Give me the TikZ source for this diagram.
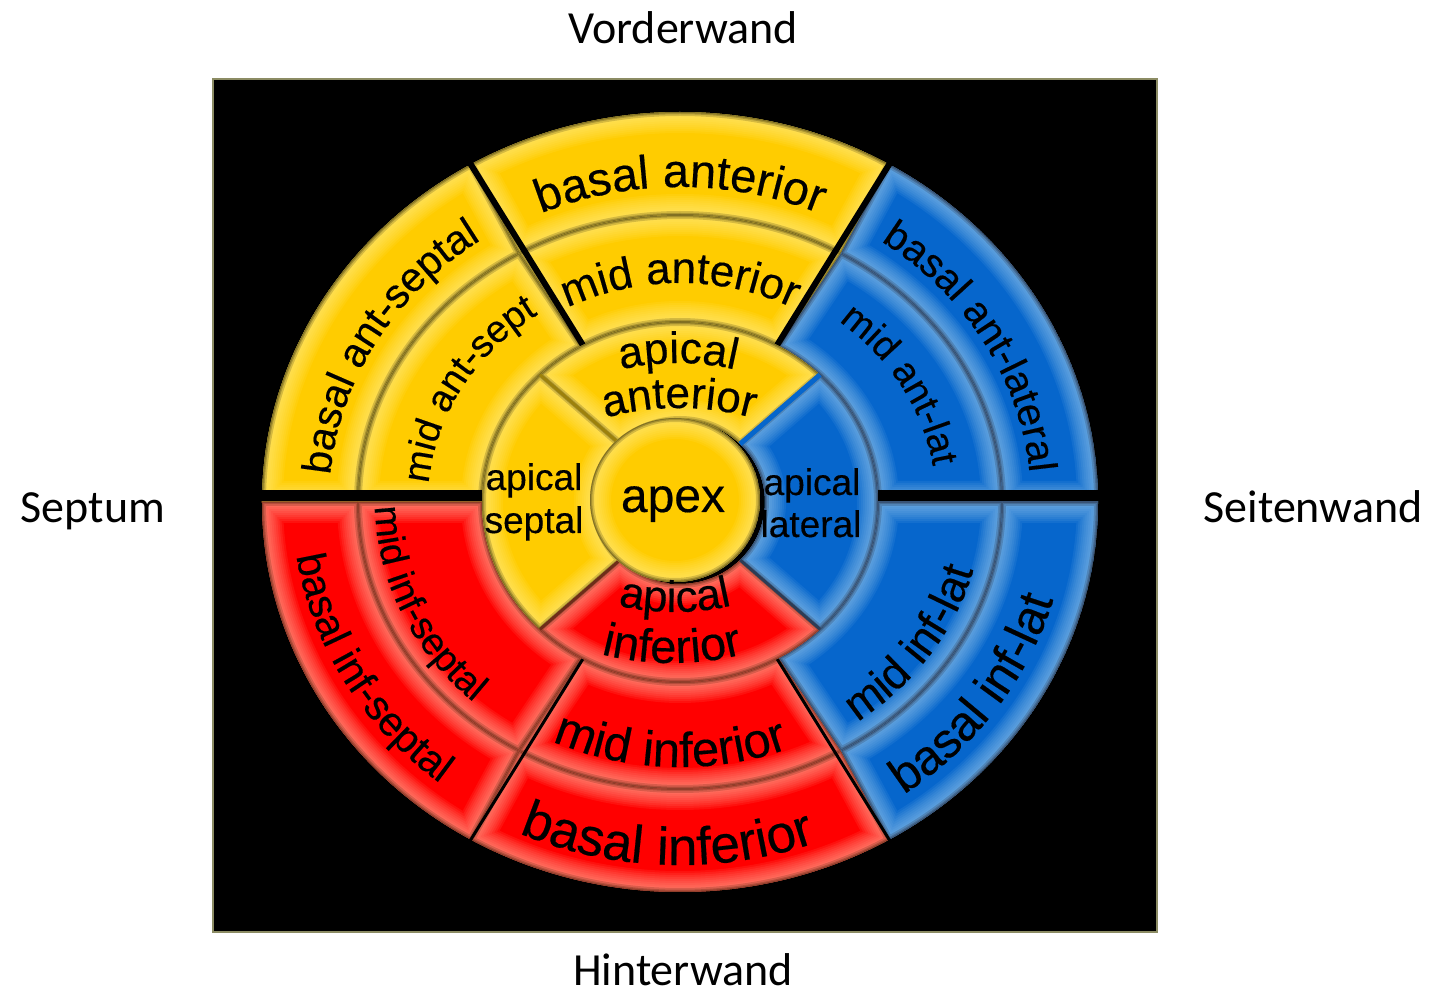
\documentclass[tikz,border=0pt]{standalone}
\usepackage{fontspec}
\setmainfont[FakeBold=0.35]{Liberation Sans}
\newfontfamily\carl{Carlito}
\usetikzlibrary{decorations.text}
\definecolor{yel}{RGB}{255,204,0}
\definecolor{yelglow}{RGB}{255,242,140}
\definecolor{yeledge}{RGB}{90,78,20}
\definecolor{rd}{RGB}{255,0,0}
\definecolor{rdglow}{RGB}{255,190,165}
\definecolor{rdedge}{RGB}{110,45,25}
\definecolor{bl}{RGB}{6,102,204}
\definecolor{blglow}{RGB}{160,205,240}
\definecolor{bledge}{RGB}{45,60,85}
\definecolor{framecol}{RGB}{140,140,100}
\newcommand\sector[7]{\path[#1] (#2:#6pt and #7pt) arc[start angle=#2,end angle=#3,x radius=#6pt,y radius=#7pt] -- (#3:#4pt and #5pt) arc[start angle=#3,end angle=#2,x radius=#4pt,y radius=#5pt] -- cycle;}
\newcommand\seg[7]{%
\begin{scope}
\sector{clip}{#2}{#3}{#4}{#5}{#6}{#7}
\sector{fill=#1}{#2}{#3}{#4}{#5}{#6}{#7}
\foreach \w in {42,38,...,2}{\sector{draw=#1glow,line width=\w pt,opacity=.09}{#2}{#3}{#4}{#5}{#6}{#7}}
\sector{draw=#1edge,line width=8pt,opacity=.25}{#2}{#3}{#4}{#5}{#6}{#7}
\sector{draw=#1edge,line width=4.5pt,opacity=.35}{#2}{#3}{#4}{#5}{#6}{#7}
\sector{draw=#1edge,line width=2pt,opacity=.5}{#2}{#3}{#4}{#5}{#6}{#7}
\end{scope}}
\newcommand\arctext[6]{\path[decorate,decoration={text along path,text align=center,text={|\fontsize{#1pt}{#1pt}\selectfont|#2}}] (#3:#5pt and #6pt) arc[start angle=#3,end angle=#4,x radius=#5pt,y radius=#6pt];}
\newcommand\circtext[6]{\path[decorate,decoration={text along path,text align=center,text={|\fontsize{#1pt}{#1pt}\selectfont|#2}}] (#5) ++(#3:#6pt) arc[start angle=#3,end angle=#4,radius=#6pt];}
\tikzset{outerlab/.style={anchor=base,font=\carl\fontsize{46pt}{50pt}\selectfont},
  innerlab/.style={anchor=base,font=\fontsize{37pt}{40pt}\selectfont,inner sep=0pt}}
\begin{document}
\begin{tikzpicture}[x=1pt,y=1pt]
\useasboundingbox (-680,-493) rectangle (775,502);
% frame
\draw[draw=framecol,line width=2.5pt,fill=black] (-467,-430) rectangle (477,423);
% basal ring
\seg{yel}{60}{120}{322}{287}{418}{390}
\seg{yel}{120}{180}{322}{287}{418}{390}
\seg{rd}{180}{240}{322}{287}{418}{390}
\seg{rd}{240}{300}{322}{287}{418}{390}
\seg{bl}{300}{360}{322}{287}{418}{390}
\seg{bl}{0}{60}{322}{287}{418}{390}
% mid ring
\seg{yel}{60}{120}{198}{180}{322}{287}
\seg{yel}{120}{180}{198}{180}{322}{287}
\seg{rd}{180}{240}{198}{180}{322}{287}
\seg{rd}{240}{300}{198}{180}{322}{287}
\seg{bl}{300}{360}{198}{180}{322}{287}
\seg{bl}{0}{60}{198}{180}{322}{287}
% dividers
\draw[black,line width=11pt] (-425,6) -- (-190,6);
\draw[black,line width=11pt] (190,6) -- (425,6);
\draw[black,line width=6pt] (60:150pt and 140pt) -- (60:440pt and 410pt);
\draw[black,line width=6pt] (120:150pt and 140pt) -- (120:440pt and 410pt);
\draw[black,line width=3pt] (240:150pt and 140pt) -- (240:440pt and 410pt);
\draw[black,line width=3pt] (300:150pt and 140pt) -- (300:440pt and 410pt);
% apical ring
\seg{yel}{45}{135}{85}{82}{198}{180}
\seg{yel}{135}{225}{85}{82}{198}{180}
\seg{rd}{225}{315}{85}{82}{198}{180}
\seg{bl}{315}{405}{85}{82}{198}{180}
\draw[bl,line width=5pt] (45:85pt and 82pt) -- (45:198pt and 180pt);
\draw[yeledge!60!yel,line width=3pt] (135:85pt and 82pt) -- (135:198pt and 180pt);
\draw[rdedge,line width=3pt] (225:85pt and 82pt) -- (225:198pt and 180pt);
\draw[bledge,line width=3pt] (315:85pt and 82pt) -- (315:198pt and 180pt);
% apex
\begin{scope}
\clip (-5,2) ellipse[x radius=85pt,y radius=82pt];
\fill[yel] (-5,2) ellipse[x radius=85pt,y radius=82pt];
\foreach \w in {42,38,...,2}{\draw[yelglow,line width=\w pt,opacity=.09] (-5,2) ellipse[x radius=85pt,y radius=82pt];}
\draw[yeledge,line width=8pt,opacity=.25] (-5,2) ellipse[x radius=85pt,y radius=82pt];
\draw[yeledge,line width=4.5pt,opacity=.35] (-5,2) ellipse[x radius=85pt,y radius=82pt];
\draw[yeledge,line width=2pt,opacity=.5] (-5,2) ellipse[x radius=85pt,y radius=82pt];
\end{scope}
% basal labels
\arctext{47}{basal anterior}{120}{60}{347}{315}
\arctext{41}{basal ant-septal}{180}{120}{351}{318}
\arctext{40}{basal ant-lateral}{60}{0}{351}{318}
\arctext{41}{basal inf-septal}{180}{240}{388}{358}
\arctext{53}{basal inferior}{238}{298}{393}{363}
\arctext{49}{basal inf-lat}{295}{355}{388}{358}
% mid labels
\arctext{44}{mid anterior}{120}{60}{243}{219}
\arctext{38}{mid ant-sept}{180}{120}{252}{227}
\arctext{38}{mid ant-lat}{60}{0}{256}{230}
\arctext{38}{mid inf-septal}{175}{233}{305}{272}
\arctext{49}{mid inferior}{238}{298}{296}{265}
\arctext{45}{mid inf-lat}{297}{355}{303}{271}
% apical labels
\circtext{44}{apical}{120}{60}{-2,-111}{250}
\circtext{44}{anterior}{120}{60}{-1,-186}{280}
\circtext{44}{apical}{240}{300}{-5,140}{250}
\circtext{47}{inferior}{240}{300}{-8,129}{290}
\node[innerlab] (as1) at (-146,12) {apical};
\node[innerlab] (as2) at (-146,-31) {septal};
\node[innerlab] (al1) at (132,7) {apical};
\node[innerlab] (al2) at (131,-35) {lateral};
\node[anchor=base,font=\fontsize{48pt}{50pt}\selectfont,inner sep=0pt] (apex) at (-7,-10) {apex};
% outer labels
\node[outerlab] (vw) at (3,458) {Vorderwand};
\node[outerlab] (hw) at (3,-483) {Hinterwand};
\node[outerlab] (sp) at (-587,-21) {Septum};
\node[outerlab] (sw) at (633,-21) {Seitenwand};
\end{tikzpicture}
\end{document}
